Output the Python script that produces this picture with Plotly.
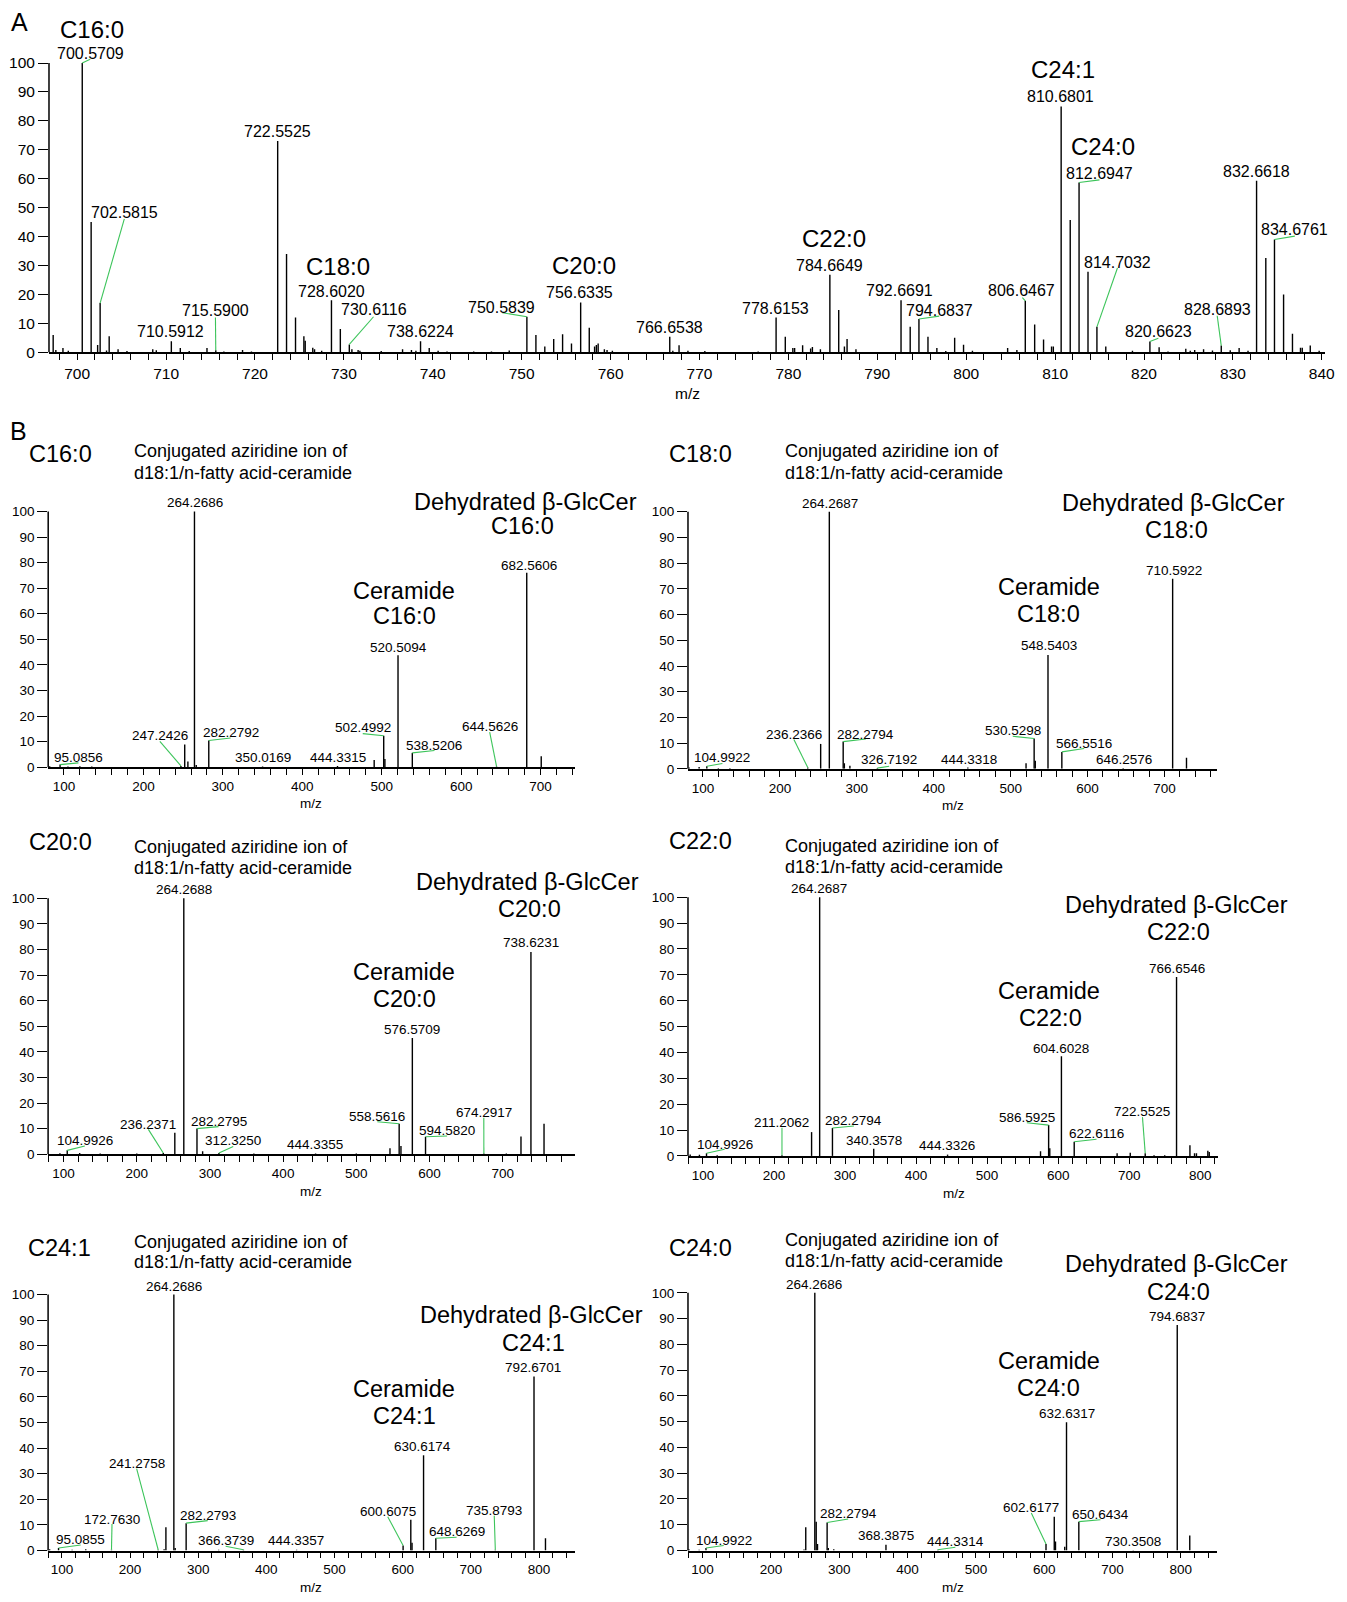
import plotly.graph_objects as go

W, H = 1347, 1602
OFF = 8                      # browser body margin: figure starts 8px in from the page corner
FW, FH = W - OFF, H - OFF    # figure size so its right/bottom edge meets the window edge
FONT = "Liberation Sans, Arial, Helvetica, sans-serif"
GREEN = "#3cc45a"

# ---------------- panel A : full MS spectrum ----------------
A_MZ = [697.3, 697.6, 698.4, 699.0, 700.5709, 701.57, 702.3, 702.5815, 703.3, 703.6, 704.6, 705.6,
        708.5, 708.9, 710.5912, 711.6, 712.6, 714.6, 715.5900, 716.5, 718.6, 719.6,
        722.5525, 723.55, 724.56, 725.5, 725.65, 726.5, 726.7, 727.5, 728.6020, 729.6, 730.6116, 730.9,
        731.6, 731.8, 734.2, 736.6, 737.6, 738.1, 738.6224, 739.6, 740.6, 741.6, 744.6, 746.6, 748.6,
        750.5839, 751.6, 752.6, 753.6, 754.6, 755.6, 756.6335, 757.6, 758.2, 758.4, 758.6, 759.3, 759.6, 760.2,
        766.6538, 767.0, 767.7, 768.7, 770.6, 776.6,
        778.6153, 779.65, 780.5, 780.7, 781.6, 782.5, 782.7, 783.6, 784.6649, 785.66, 786.3, 786.6, 787.6,
        792.6691, 793.7, 794.6837, 795.7, 796.7, 797.7, 798.7, 799.7, 800.7,
        804.66, 805.7, 806.6467, 807.7, 808.7, 809.6, 809.8, 810.6801, 811.7, 812.6947, 813.7, 814.7032, 815.7,
        818.7, 820.6623, 821.7, 822.7, 824.7, 825.2, 825.7, 826.7, 827.7, 828.6893, 829.7, 830.7, 831.7,
        832.6618, 833.7, 834.6761, 835.7, 836.7, 837.6, 837.8, 838.7, 839.7]
A_INT = [6.0, 0.8, 1.5, 0.5, 100, 45, 2.5, 17, 0.6, 5.5, 1.0, 0.4,
         1.0, 0.7, 3.8, 1.5, 0.4, 1.5, 0.7, 0.3, 0.8, 0.3,
         73, 34, 12, 5.5, 4.0, 1.6, 1.0, 0.5, 18, 8.0, 2.7, 1.0,
         0.8, 0.5, 0.4, 1.0, 0.8, 0.5, 3.8, 1.5, 0.5, 0.3, 0.3, 0.3, 0.6,
         12.3, 6.0, 2.0, 4.6, 6.2, 3.0, 17.2, 8.5, 2.0, 2.5, 3.0, 1.0, 0.8, 0.5,
         5.4, 0.5, 2.4, 0.5, 0.4, 0.3,
         12, 5.4, 1.5, 1.5, 2.4, 1.3, 1.8, 1.0, 26.8, 14.6, 2.0, 4.6, 1.0,
         18, 8.8, 11.5, 5.4, 1.5, 0.4, 5.0, 2.6, 0.5,
         1.5, 0.8, 17.8, 9.6, 4.4, 2.0, 2.0, 85, 45.7, 58.7, 27.8, 8.8, 2.0,
         0.5, 3.7, 1.7, 0.3, 1.2, 0.5, 0.8, 1.0, 0.6, 2.3, 0.7, 1.5, 0.5,
         59.3, 32.6, 39, 20, 6.4, 1.6, 1.6, 2.3, 0.5]

# ---------------- panel B : MS/MS spectra ----------------
B1_MZ = [82, 95.0856, 105, 120, 135, 247.2426, 252.0, 256.0, 264.2686, 266.5, 282.2792, 350.0169,
         444.3315, 490.5, 502.4992, 504.0, 520.5094, 538.5206, 644.5626, 682.5606, 700.8]
B1_INT = [0.4, 1.0, 0.3, 0.4, 0.3, 0.5, 8.9, 2.2, 100, 0.8, 10.4, 0.3,
          0.5, 2.8, 12.3, 3.2, 43.8, 5.6, 0.3, 76, 4.3]

B2_MZ = [82, 95, 104.9922, 120, 135, 236.2366, 253.0, 264.2687, 282.2794, 283.8, 291.0, 326.7192,
         444.3318, 520.0, 530.5298, 532.0, 548.5403, 566.5516, 646.2576, 710.5922, 728.6]
B2_INT = [0.5, 0.7, 1.0, 0.3, 0.3, 0.5, 9.7, 100, 10.6, 2.2, 1.2, 0.3,
          0.5, 2.2, 11.8, 3.2, 44.3, 6.6, 0.3, 73.9, 4.3]

B3_MZ = [95, 104.9926, 122, 150, 200, 236.2371, 252.0, 264.2688, 282.2795, 290.0, 312.3250, 360,
         444.3355, 500, 546.0, 558.5616, 561.0, 576.5709, 594.5820, 674.2917, 705, 725.0, 738.6231, 756.5]
B3_INT = [0.4, 1.5, 0.5, 0.3, 0.3, 0.5, 8.4, 100, 10.0, 1.2, 0.5, 0.3,
          0.3, 0.3, 2.3, 11.9, 3.2, 45.4, 6.8, 0.3, 0.3, 6.9, 79, 11.9]

B4_MZ = [82, 95, 104.9926, 120, 211.2062, 252.9, 264.2687, 282.2794, 340.3578, 444.3326, 575.2,
         586.5925, 588.2, 604.6028, 622.6116, 683, 701.5, 722.5525, 735, 750, 766.6546, 785.5,
         792, 794.7, 810.7, 812.7]
B4_INT = [0.5, 0.4, 1.0, 0.3, 0.3, 9.2, 100, 10.8, 2.8, 0.5, 1.8,
          11.9, 3.0, 38.5, 5.5, 1.0, 1.2, 1.0, 0.3, 0.3, 69.2, 4.1,
          1.0, 1.0, 2.0, 1.5]

B5_MZ = [82, 95.0855, 115, 135, 172.7630, 241.2758, 250.0, 252.6, 264.2686, 266.2, 282.2793, 330,
         366.3739, 444.3357, 600.6075, 611.9, 613.7, 630.6174, 648.6269, 735.8793, 792.6701, 809.5]
B5_INT = [0.5, 1.0, 0.3, 0.5, 0.3, 0.3, 0.5, 9.1, 100, 1.0, 10.7, 0.3,
          0.3, 0.3, 2.0, 12.0, 3.0, 37.2, 4.8, 0.3, 68.0, 4.8]

B6_MZ = [80, 95, 104.9922, 248.5, 251.0, 264.2686, 266.3, 268.2, 282.2794, 284.0, 292.0, 368.3875,
         444.3314, 602.6177, 614.7, 616.5, 630.0, 632.6317, 650.6434, 730.3508, 794.6837, 813.0]
B6_INT = [0.5, 0.3, 1.0, 0.4, 9.0, 100, 11.2, 2.5, 10.9, 1.0, 0.5, 2.2,
          0.3, 2.5, 13.1, 3.5, 1.5, 49.8, 11.2, 0.2, 87.5, 5.8]

SPECIES = ["C16:0", "C18:0", "C20:0", "C22:0", "C24:1", "C24:0"]
Y_TICKS = list(range(0, 101, 10))

# ---------------- layout of panels (pixel calibration, page coordinates) ----------------
PANELS = [
    dict(mz=A_MZ, it=A_INT, x0=49.3, x1=1335, t1=(700, 77.7), t2=(840, 1331.7),
         y0=354, y100=63.3, ytop=8, dtick=10, minor=2, tf=15.5, lf=16, mzpos=(692.3, 395), mzf=15.5),
    dict(mz=B1_MZ, it=B1_INT, x0=48.5, x1=578.8, t1=(100, 64.4), t2=(700, 544.6),
         y0=771, y100=514, ytop=430, dtick=100, minor=20, tf=13.5, lf=13.5, mzpos=(313.6, 807.3), mzf=13.5),
    dict(mz=B2_MZ, it=B2_INT, x0=693.1, x1=1226.5, t1=(100, 708.2), t2=(700, 1173.2),
         y0=772.7, y100=514.3, ytop=430, dtick=100, minor=20, tf=13.5, lf=13.5, mzpos=(959.8, 810), mzf=13.5),
    dict(mz=B3_MZ, it=B3_INT, x0=48.4, x1=578.8, t1=(100, 64.0), t2=(700, 506.4),
         y0=1160, y100=902.7, ytop=820, dtick=100, minor=20, tf=13.5, lf=13.5, mzpos=(313.3, 1197.3), mzf=13.5),
    dict(mz=B4_MZ, it=B4_INT, x0=693.1, x1=1227.5, t1=(100, 708.2), t2=(800, 1209.2),
         y0=1161.7, y100=901.7, ytop=820, dtick=100, minor=20, tf=13.5, lf=13.5, mzpos=(961.2, 1199), mzf=13.5),
    dict(mz=B5_MZ, it=B5_INT, x0=48.4, x1=578.8, t1=(100, 62.3), t2=(800, 543.0),
         y0=1558.3, y100=1301, ytop=1210, dtick=100, minor=20, tf=13.5, lf=13.5, mzpos=(313.6, 1595), mzf=13.5),
    dict(mz=B6_MZ, it=B6_INT, x0=693.1, x1=1226.5, t1=(100, 707.8), t2=(800, 1189.7),
         y0=1558.3, y100=1299.3, ytop=1210, dtick=100, minor=20, tf=13.5, lf=13.5, mzpos=(959.8, 1595), mzf=13.5),
]

# peak label placement: (text, centre px x, centre px y, leader start px or None)
PEAK_LABELS = [
    [("700.5709", 90.8, 53.3, (90.8, 59.5)), ("702.5815", 125.2, 213.3, (125.2, 220)),
     ("710.5912", 172.2, 332.7, None), ("715.5900", 217.0, 312.3, (217.0, 319)),
     ("722.5525", 279.7, 131.7, None), ("728.6020", 333.7, 292.7, None),
     ("730.6116", 376.3, 311, (376.3, 318.3)), ("738.6224", 423.3, 333.3, None),
     ("750.5839", 505.7, 309, (506, 314.3)), ("756.6335", 584.3, 294.3, None),
     ("766.6538", 674.3, 329, None), ("778.6153", 781.3, 310, None),
     ("784.6649", 835.8, 266.7, None), ("792.6691", 906.7, 291.7, None),
     ("794.6837", 946.2, 311.7, (946.2, 317.7)), ("806.6467", 1028.7, 292.3, (1030, 299)),
     ("810.6801", 1068.7, 96.7, None), ("812.6947", 1107.7, 174, (1107.7, 180.7)),
     ("814.7032", 1125.8, 263.3, (1125.8, 269.3)), ("820.6623", 1167, 333.3, (1167, 340)),
     ("828.6893", 1226.3, 310.7, (1226.3, 317.3)), ("832.6618", 1266, 172.3, None),
     ("834.6761", 1304.5, 231, (1304.5, 237.3))],
    [("264.2686", 196.1, 505, None), ("682.5606", 533.3, 568.3, None), ("520.5094", 401.1, 650.7, None),
     ("95.0856", 78.7, 761, (79, 766.7)), ("247.2426", 160.8, 739.3, (161, 745)),
     ("282.2792", 232.3, 736, (232.3, 741.7)), ("350.0169", 265.2, 761.7, None),
     ("444.3315", 340.1, 761.7, None), ("502.4992", 365.4, 731, (365.4, 737.3)),
     ("538.5206", 437.7, 749, (437.7, 754.3)), ("644.5626", 493.3, 730, (493.3, 735.7))],
    [("264.2687", 835.8, 505.7, None), ("710.5922", 1182.5, 573.3, None), ("548.5403", 1056.7, 649, None),
     ("104.9922", 727.8, 761.7, (727.8, 767.3)), ("236.2366", 799.8, 738.3, (799.8, 743.3)),
     ("282.2794", 872.3, 738.3, (872.3, 742.7)), ("326.7192", 895.8, 763.3, (895.8, 770)),
     ("444.3318", 975.8, 763.3, None), ("530.5298", 1020.3, 734.3, (1020.3, 740)),
     ("566.5516", 1092.3, 747.3, (1092.3, 752.3)), ("646.2576", 1132.3, 763.3, None)],
    [("264.2688", 185.2, 894.3, None), ("738.6231", 534.6, 947.7, None), ("576.5709", 415.4, 1034.3, None),
     ("104.9926", 85.4, 1146.7, (85.4, 1151.7)), ("236.2371", 149.4, 1130, (149.4, 1135)),
     ("282.2795", 220.1, 1126.7, (220.1, 1132.3)), ("312.3250", 234.9, 1146.7, (234.9, 1152.3)),
     ("444.3355", 317.8, 1150.7, None), ("558.5616", 380.1, 1121.7, (380.1, 1127.3)),
     ("594.5820", 450.4, 1136, (450.4, 1141.7)), ("674.2917", 487.4, 1118.3, (487.4, 1123.3))],
    [("264.2687", 825.6, 892.7, None), ("766.6546", 1185.7, 973.3, None), ("604.6028", 1069.2, 1053.3, None),
     ("104.9926", 730, 1150, (730, 1155)), ("211.2062", 787.8, 1128.3, (787.8, 1133.3)),
     ("282.2794", 860.3, 1126, (860.3, 1131.7)), ("340.3578", 880.3, 1146, None),
     ("444.3326", 954.5, 1151, None), ("586.5925", 1034.5, 1122.7, (1034.5, 1128.3)),
     ("622.6116", 1104.7, 1139, (1104.7, 1145)), ("722.5525", 1151, 1116.7, (1151, 1122.7))],
    [("264.2686", 175, 1292.7, None), ("792.6701", 536.7, 1374.3, None), ("630.6174", 426, 1454, None),
     ("95.0855", 81.2, 1547.3, (81.2, 1552.7)), ("172.7630", 112.8, 1526.7, (112.8, 1531.7)),
     ("241.2758", 137.6, 1471, (137.6, 1476)), ("282.2793", 209.2, 1522.7, (209.2, 1528.3)),
     ("366.3739", 227.3, 1548.3, (227.3, 1554)), ("444.3357", 298, 1548.3, None),
     ("600.6075", 390.6, 1519, (390.6, 1524.3)), ("648.6269", 460, 1539, (460, 1545)),
     ("735.8793", 497.9, 1518.3, (497.9, 1523.3))],
    [("264.2686", 820.3, 1290.7, None), ("794.6837", 1185.7, 1322.7, None), ("632.6317", 1074.5, 1420.7, None),
     ("104.9922", 729.1, 1548.3, (729.1, 1553.3)), ("282.2794", 854.5, 1521, (854.5, 1526.7)),
     ("368.3875", 892.3, 1543.3, None), ("444.3314", 962.5, 1549.3, (962.5, 1555)),
     ("602.6177", 1039, 1515, (1039, 1520.7)), ("650.6434", 1108.7, 1521.7, (1108.7, 1527.3)),
     ("730.3508", 1141.2, 1549.3, None)],
]

# species labels above top spectrum (px positions)
A_SPECIES_POS = [(92.5, 29.3), (340.8, 268.3), (588.5, 266.7), (839.8, 239.3), (1070.5, 70), (1111.2, 147.3)]
A_SPECIES = ["C16:0", "C18:0", "C20:0", "C22:0", "C24:1", "C24:0"]

# panel-B text blocks: header, conj (left x, y1, y2), dehydrated (x,y),(x,y), ceramide (x,y),(x,y)
B_TEXT_POS = [
    dict(hd=(61, 456), cj=(132.6, 453.5, 475.5), dh=((529, 504), (526, 529)), ce=((407, 594.3), (407.7, 619.3))),
    dict(hd=(705.6, 456), cj=(788.7, 453.3, 475), dh=((1182.5, 505), (1185.6, 532.7)), ce=((1056.7, 590), (1056.7, 617.3))),
    dict(hd=(61, 846), cj=(132.6, 851.7, 872.7), dh=((531.2, 886.7), (533.3, 913.3)), ce=((407, 976.7), (407, 1004))),
    dict(hd=(705.6, 845.7), cj=(788.7, 850.7, 871.7), dh=((1184.8, 909.3), (1187, 936.7)), ce=((1056.7, 996), (1058.1, 1023.3))),
    dict(hd=(60, 1254), cj=(133.3, 1248.3, 1268.3), dh=((535.8, 1321.7), (537.9, 1349.3)), ce=((407, 1395.7), (407, 1422.7))),
    dict(hd=(705.6, 1254), cj=(788.7, 1246, 1267.3), dh=((1184.8, 1270.7), (1187, 1298.3)), ce=((1056.7, 1367.7), (1056.7, 1395))),
]
CONJ_LINES = ["Conjugated aziridine ion of", "d18:1/n-fatty acid-ceramide"]


def pxx(px):
    return (px - OFF) / FW


def pyy(py):
    return 1 - (py - OFF) / FH


# ---------------- build figure ----------------
fig = go.Figure()
layout = dict(width=FW, height=FH, margin=dict(l=0, r=0, t=0, b=0, pad=0),
              paper_bgcolor="white", plot_bgcolor="white", showlegend=False,
              font=dict(family=FONT, color="black"))
shapes, annos = [], []


def ann(text, x, y, size, xref="paper", yref="paper", xanchor="center"):
    annos.append(dict(text=text, x=x, y=y, xref=xref, yref=yref, showarrow=False,
                      xanchor=xanchor, yanchor="middle", font=dict(size=size, family=FONT, color="black")))


for i, p in enumerate(PANELS):
    n = "" if i == 0 else str(i + 1)
    (v1, p1), (v2, p2) = p["t1"], p["t2"]
    k = (p2 - p1) / (v2 - v1)
    xmin = v1 + (p["x0"] - p1) / k
    xmax = v1 + (p["x1"] - p1) / k
    ky = (p["y0"] - p["y100"]) / 100.0
    ymax = (p["y0"] - p["ytop"]) / ky

    def px2x(px, v1=v1, p1=p1, k=k):
        return v1 + (px - p1) / k

    def py2y(py, y0=p["y0"], ky=ky):
        return (y0 - py) / ky

    layout["xaxis" + n] = dict(
        domain=[pxx(p["x0"]), pxx(p["x1"])], range=[xmin, xmax], anchor="y" + n,
        showline=True, linecolor="black", linewidth=1.5, ticks="outside", ticklen=6,
        tickwidth=1.2, tickcolor="black", tick0=0, dtick=p["dtick"],
        minor=dict(ticks="outside", dtick=p["minor"], tick0=0, ticklen=6, tickwidth=1.2,
                   tickcolor="black", showgrid=False),
        showgrid=False, zeroline=False, tickfont=dict(size=p["tf"], family=FONT, color="black"))
    layout["yaxis" + n] = dict(
        domain=[pyy(p["y0"]), pyy(p["ytop"])], range=[0, ymax], anchor="x" + n,
        showline=False, ticks="outside", ticklen=10, tickwidth=1.2, tickcolor="black",
        tickvals=Y_TICKS, showgrid=False, zeroline=False,
        tickfont=dict(size=p["tf"], family=FONT, color="black"))
    # y-axis line from 0 to 100 only
    shapes.append(dict(type="line", xref="paper", yref="paper", x0=pxx(p["x0"]), x1=pxx(p["x0"]),
                       y0=pyy(p["y0"]), y1=pyy(p["y100"]), line=dict(color="black", width=1.5)))

    xs, ys = [], []
    for m, v in zip(p["mz"], p["it"]):
        xs += [m, m, None]
        ys += [0, v, None]
    fig.add_trace(go.Scatter(x=xs, y=ys, mode="lines", line=dict(color="black", width=1.4),
                             xaxis="x" + n, yaxis="y" + n, hoverinfo="skip"))

    for text, cx, cy, lead in PEAK_LABELS[i]:
        ann(text, px2x(cx), py2y(cy), p["lf"], xref="x" + n, yref="y" + n)
        if lead is not None:
            target = float(text)
            j = min(range(len(p["mz"])), key=lambda q: abs(p["mz"][q] - target))
            shapes.append(dict(type="line", xref="x" + n, yref="y" + n,
                               x0=px2x(lead[0]), y0=py2y(lead[1]), x1=p["mz"][j], y1=p["it"][j],
                               line=dict(color=GREEN, width=1.1)))

    # m/z axis title
    ann("m/z", pxx(p["mzpos"][0]), pyy(p["mzpos"][1]), p["mzf"])

    if i == 0:
        for t, (cx, cy) in zip(A_SPECIES, A_SPECIES_POS):
            ann(t, px2x(cx), py2y(cy), 24, xref="x", yref="y")
    else:
        sp = SPECIES[i - 1]
        tp = B_TEXT_POS[i - 1]
        ann(sp, pxx(tp["hd"][0]), pyy(tp["hd"][1]), 23.5)
        ann(CONJ_LINES[0], pxx(tp["cj"][0]), pyy(tp["cj"][1]), 18, xanchor="left")
        ann(CONJ_LINES[1], pxx(tp["cj"][0]), pyy(tp["cj"][2]), 18, xanchor="left")
        ann("Dehydrated β-GlcCer", pxx(tp["dh"][0][0]), pyy(tp["dh"][0][1]), 23.5)
        ann(sp, pxx(tp["dh"][1][0]), pyy(tp["dh"][1][1]), 23.5)
        ann("Ceramide", pxx(tp["ce"][0][0]), pyy(tp["ce"][0][1]), 23.5)
        ann(sp, pxx(tp["ce"][1][0]), pyy(tp["ce"][1][1]), 23.5)

ann("A", pxx(20), pyy(22.5), 25)
ann("B", pxx(18.9), pyy(432.7), 25)

layout["shapes"] = shapes
layout["annotations"] = annos
fig.update_layout(**layout)
fig.write_html("out.html", config={"displayModeBar": False})
